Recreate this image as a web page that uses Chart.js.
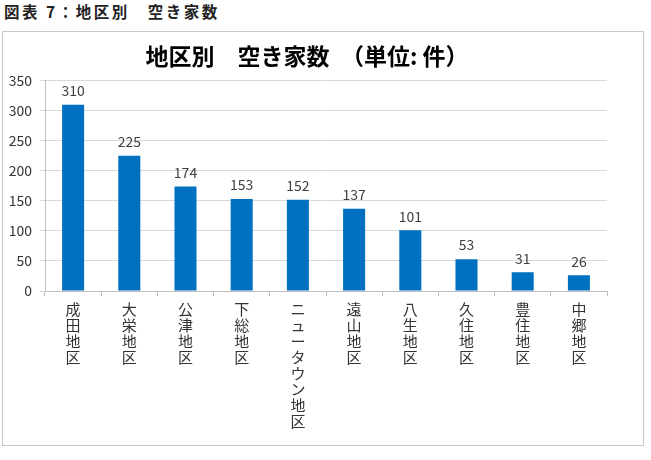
<!DOCTYPE html>
<html><head><meta charset="utf-8">
<script src="https://cdn.jsdelivr.net/npm/chart.js@4.4.1/dist/chart.umd.min.js"></script>
<style>
html,body{margin:0;padding:0;background:#fff;width:651px;height:460px;overflow:hidden;}
#hdr{position:absolute;left:4px;top:0px;font-family:"Noto Sans CJK JP",sans-serif;font-weight:bold;font-size:15.5px;color:#222;letter-spacing:2.5px;}
#box{position:absolute;left:2px;top:31px;width:640px;height:413px;border:1px solid #c8c8c8;}
canvas{display:block;}
</style></head>
<body>
<div id="hdr">図表 7：地区別　空き家数</div>
<div id="box"><canvas id="c" width="640" height="413"></canvas></div>
<script>
const categories = ["成田地区","大栄地区","公津地区","下総地区","ニュータウン地区","遠山地区","八生地区","久住地区","豊住地区","中郷地区"];
const vacantHouses = [310,225,174,153,152,137,101,53,31,26];
const yTicks = [0,50,100,150,200,250,300,350];
const chartTitle = "地区別　空き家数　（単位: 件）";

const font = '"Noto Sans CJK JP", "Noto Sans", sans-serif';

const valueLabels = {
  id:'valueLabels',
  afterDatasetsDraw(chart){
    const ctx = chart.ctx;
    const meta = chart.getDatasetMeta(0);
    ctx.save();
    ctx.font = '14px ' + font;
    ctx.fillStyle = '#404040';
    ctx.textAlign = 'center';
    ctx.textBaseline = 'bottom';
    meta.data.forEach((el,i)=>{
      ctx.fillText(String(chart.data.datasets[0].data[i]), el.x, el.y - 7);
    });
    ctx.restore();
  }
};

new Chart(document.getElementById('c'), {
  type:'bar',
  data:{
    labels: categories.map(s=>s.split('')),
    datasets:[{data:vacantHouses, backgroundColor:'#0070C0', borderWidth:0, categoryPercentage:0.8, barPercentage:0.49}]
  },
  options:{
    responsive:false, animation:false,
    layout:{padding:{left:4,right:36,top:0,bottom:0}},
    plugins:{
      legend:{display:false}, tooltip:{enabled:false},
      title:{display:true, text:chartTitle, color:'#000', font:{family:font, size:23, weight:'bold'}, padding:{top:10,bottom:11}}
    },
    scales:{
      x:{
        grid:{display:true, offset:true, drawOnChartArea:false, drawTicks:true, tickLength:5, color:'#bfbfbf'},
        border:{display:true, color:'#bfbfbf'},
        ticks:{color:'#333', font:{family:font, size:15, lineHeight:1.07}, maxRotation:0, minRotation:0, autoSkip:false, padding:5},
        afterFit(s){ s.height = 154; }
      },
      y:{
        min:0, max:350,
        afterBuildTicks(s){ s.ticks = yTicks.map(v=>({value:v})); },
        grid:{color:'#d9d9d9', drawTicks:true, tickLength:5},
        border:{display:true, color:'#bfbfbf'},
        ticks:{color:'#333', font:{family:font, size:14}, padding:8},
        afterFit(s){ s.width = 38; }
      }
    }
  },
  plugins:[valueLabels]
});
</script>
</body></html>
